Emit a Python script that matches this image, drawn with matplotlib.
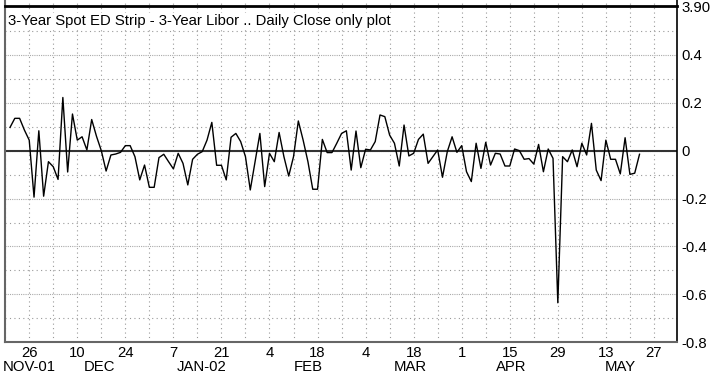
import matplotlib.pyplot as plt
import matplotlib.transforms as mtransforms
import numpy as np

plt.rcParams['font.family'] = ['Liberation Sans', 'DejaVu Sans']

# daily close of the spread, one value per trading day (Nov-01 .. May-02)
spread = [0.097, 0.135, 0.135, 0.086, 0.044, -0.194, 0.083, -0.19, -0.046, -0.067,
          -0.12, 0.222, -0.089, 0.153, 0.044, 0.058, 0.003, 0.13, 0.06, 0.0,
          -0.085, -0.018, -0.014, -0.007, 0.021, 0.021, -0.025, -0.122, -0.06, -0.153,
          -0.153, -0.029, -0.015, -0.046, -0.076, -0.011, -0.053, -0.143, -0.036, -0.015,
          -0.004, 0.044, 0.118, -0.061, -0.061, -0.122, 0.056, 0.072, 0.038, -0.025,
          -0.164, -0.046, 0.072, -0.15, -0.011, -0.046, 0.076, -0.025, -0.106, -0.025,
          0.124, 0.044, -0.046, -0.161, -0.161, 0.047, -0.008, -0.008, 0.031, 0.072,
          0.083, -0.081, 0.082, -0.071, 0.006, 0.003, 0.038, 0.149, 0.142, 0.065,
          0.031, -0.064, 0.107, -0.022, -0.011, 0.047, 0.069, -0.053, -0.025, 0.003,
          -0.111, -0.004, 0.058, -0.007, 0.021, -0.088, -0.129, 0.031, -0.074, 0.035,
          -0.06, -0.011, -0.014, -0.064, -0.064, 0.007, 0.0, -0.036, -0.033, -0.056,
          0.026, -0.088, 0.007, -0.032, -0.635, -0.025, -0.046, 0.003, -0.067, 0.031,
          -0.018, 0.114, -0.081, -0.125, 0.044, -0.036, -0.036, -0.097, 0.054, -0.099,
          -0.094, -0.015]

day_labels = ['26', '10', '24', '7', '21', '4', '18', '4', '18', '1', '15', '29', '13', '27']
day_pos = np.arange(4, 135, 10)
month_labels = ['NOV-01', 'DEC', 'JAN-02', 'FEB', 'MAR', 'APR', 'MAY']
month_pos = [4, 18.7, 39.9, 62, 83.2, 104.3, 126.9]

y_ticks = [-0.8, -0.6, -0.4, -0.2, 0, 0.2, 0.4]
y_labels = ['-0.8', '-0.6', '-0.4', '-0.2', '0', '0.2', '0.4']
top_level = 0.603
top_label = '3.90'

fig = plt.figure(figsize=(7.12, 3.82), dpi=100)
ax = fig.add_axes([5 / 712, 1 - 342.3 / 382, 672 / 712, 342.3 / 382])

x = np.arange(len(spread))
ax.plot(x, spread, color='black', lw=1.0, zorder=3)
ax.axhline(0, color='#333333', lw=1.5, zorder=2)
ax.axhline(top_level, color='black', lw=2.0, zorder=4, clip_on=False)

ax.set_xlim(-1.04, 138.8)
ax.set_ylim(-0.8, 0.629)

# right hand price scale
ax.yaxis.tick_right()
ax.set_yticks(y_ticks + [top_level], y_labels + [top_label])
ax.set_yticks(np.arange(-0.7, 0.6, 0.2), minor=True)
ax.tick_params(axis='y', which='both', length=0, pad=3, labelsize=10.7)

ax.set_xticks(day_pos, day_labels)
ax.set_xticks(np.arange(-1, 135, 10), minor=True)
ax.tick_params(axis='x', which='both', length=0, pad=3, labelsize=10.7)

trans = mtransforms.blended_transform_factory(ax.transData, ax.transAxes)
for pos, lab in zip(month_pos, month_labels):
    ax.text(pos, -0.052, lab, transform=trans, ha='center', va='top', fontsize=10.7)

ax.grid(axis='y', which='major', color='#aaaaaa', lw=0.8, ls=(0, (1, 1)))
ax.grid(axis='y', which='minor', color='#999999', lw=0.8, ls=(0, (1, 3)))
ax.grid(axis='x', which='both', color='#999999', lw=0.8, ls=(0, (1, 3)))

ax.spines['top'].set_visible(False)
ax.spines['left'].set_color('#666666')
ax.spines['left'].set_linewidth(1.5)
ax.spines['bottom'].set_color('#666666')
ax.spines['bottom'].set_linewidth(1.5)
ax.spines['right'].set_color('black')
ax.spines['right'].set_linewidth(1.2)

fig.text(8 / 712, 1 - 14 / 382, '3-Year Spot ED Strip - 3-Year Libor .. Daily Close only plot',
         ha='left', va='top', fontsize=10.7, zorder=5,
         bbox=dict(facecolor='white', edgecolor='none', pad=1))

fig.savefig('out.png', dpi=100)
